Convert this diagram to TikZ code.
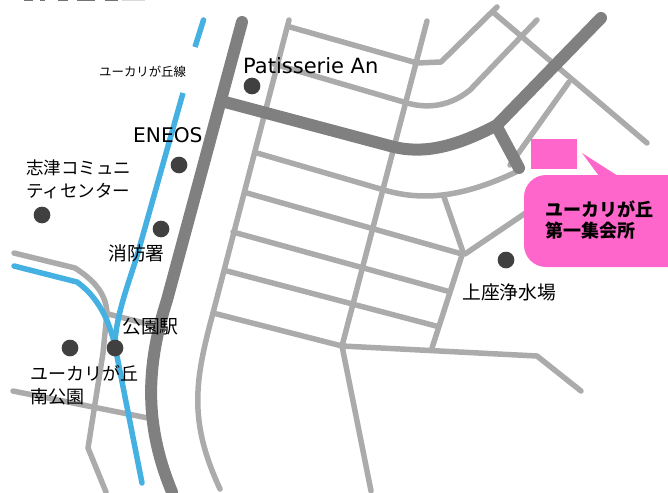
\documentclass[tikz,border=0pt]{standalone}
\usepackage{fontspec}
\setmainfont{DejaVu Sans}
\newfontfamily\cjk{Noto Sans CJK JP}
\definecolor{roadgray}{HTML}{ABABAB}
\definecolor{maingray}{HTML}{808080}
\definecolor{railblue}{HTML}{45B1E3}
\definecolor{poigray}{HTML}{404040}
\definecolor{hallpink}{HTML}{FF66CC}
\tikzset{
  road/.style={draw=roadgray,line width=5.5pt,line cap=round,line join=round},
  mainroad/.style={draw=maingray,line width=12pt,line cap=round,line join=round},
  rail/.style={draw=railblue,line width=5.5pt,line cap=round,line join=round},
  railcut/.style={draw=railblue,line width=5.5pt,line cap=butt},
  poi/.style={circle,fill=poigray,minimum size=16.7pt,inner sep=0pt},
  lbl/.style={anchor=west,inner sep=0pt,align=left,text=black},
  jpa/.style={lbl,font=\cjk\fontsize{17.5}{23}\selectfont},
  jpb/.style={lbl,font=\cjk\fontsize{18.8}{23}\selectfont},
}
\begin{document}
\begin{tikzpicture}[x=1pt,y=-1pt]
\useasboundingbox (0,0) rectangle (668,492);
% clipped title remnant at the top edge
\foreach \a/\b in {24/33,40/45,58/68,77/95,105/118}
  \fill[black!55] (\a,0) rectangle (\b,1);
\fill[black!15] (122,0) rectangle (145,1);
% minor roads
\draw[road] (289,20) -- (213,313) .. controls (195,380) and (188,420) .. (220,489);
\draw[road] (290,27) -- (417,63) -- (441,62) -- (497,7);
\draw[road] (427,21) -- (342,346) -- (371,491);
\draw[road] (274,64) -- (407,103) .. controls (425,108) and (448,108) .. (470,90) -- (537,20);
\draw[road] (257,153) -- (384,190) .. controls (425,202) and (465,196) .. (516,172);
\draw[road] (247,193) -- (462,254);
\draw[road] (233,232) -- (447,291);
\draw[road] (227,271) -- (436,326);
\draw[road] (213,313) -- (342,346) -- (537,356) -- (581,391);
\draw[road] (444,197) -- (463,252) -- (432,348);
\draw[road] (465,254) -- (530,210);
\draw[road] (510,165) -- (569,82);
\draw[road] (494,13) -- (647,143);
% left minor roads
\draw[road] (14,253) -- (75,268) .. controls (92,279) and (106,292) .. (107,313) -- (103,353) -- (88,448) -- (106,492);
\draw[road] (108,314) -- (152,325);
\draw[road] (13,391) -- (148,418);
% main roads
\draw[mainroad] (242,22) -- (167,300) .. controls (148,360) and (142,420) .. (172,492);
\draw[mainroad] (225,102) -- (394,147) .. controls (420,153) and (450,150) .. (497,125) -- (601,18);
\draw[mainroad] (497,127) -- (519,168);
% rail
\draw[railcut] (203.5,20) -- (195,47);
\fill[railblue] (203.5,20) circle (2.75pt);
\draw[railcut] (183,93) -- (137,256);
\draw[rail] (137,256) .. controls (128,285) and (118,310) .. (115,340);
\draw[rail] (14,266) -- (77,282) .. controls (95,295) and (108,315) .. (115,346) -- (142,483);
% POIs
\node[poi] (p1) at (252,86) {};
\node[poi] (p2) at (179,165) {};
\node[poi] (p3) at (42,215) {};
\node[poi] (p4) at (161,229) {};
\node[poi] (p5) at (70,348) {};
\node[poi] (p6) at (115,348) {};
\node[poi] (p7) at (506,260) {};
% labels
\node[lbl,font=\cjk\fontsize{12.4}{14}\selectfont] (t0) at (99,72) {ユーカリが丘線};
\node[lbl,font=\fontsize{21}{23}\selectfont] (t1) at (243,66) {Patisserie An};
\node[lbl,font=\fontsize{20.2}{22}\selectfont] (t2) at (133,135) {ENEOS};
\node[jpa] (t3) at (26,179) {志津コミュニ\\ティセンター};
\node[jpb] (t4) at (108,253) {消防署};
\node[jpb] (t5) at (122,327) {公園駅};
\node[lbl,font=\cjk\fontsize{18}{23}\selectfont] (t6) at (30,385) {ユーカリが丘\\南公園};
\node[jpb] (t7) at (462,292) {上座浄水場};
% hall
\fill[hallpink] (531,139) rectangle (577,169);
\fill[hallpink,rounded corners=22pt] (524,175) rectangle (690,267);
\fill[hallpink] (582,153) -- (599,176) -- (618,176) -- cycle;
\node[lbl,font=\cjk\bfseries\fontsize{18}{21}\selectfont] (t8) at (545,220) {ユーカリが丘\\第一集会所};
\end{tikzpicture}
\end{document}
